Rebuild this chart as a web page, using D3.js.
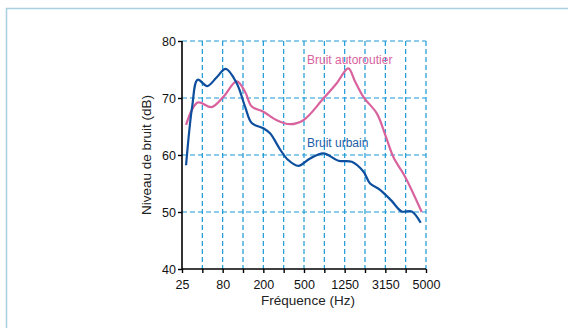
<!DOCTYPE html>
<html>
<head>
<meta charset="utf-8">
<script src="https://cdn.jsdelivr.net/npm/d3@7"></script>
<style>
  body { margin: 0; background: #fff; }
  svg { display: block; font-family: "Liberation Sans", Arial, sans-serif; }
</style>
</head>
<body>
<svg id="chart" width="568" height="328"></svg>
<script>
// x axis is evenly spaced bands (index 0..12), labels every second band
const bandLabels = ["25", "", "80", "", "200", "", "500", "", "1250", "", "3150", "", "5000"];
const yTicks = [40, 50, 60, 70, 80];

// Bruit urbain: [band index, dB]
const urbain = [
  [0.2, 58.2], [0.5, 68.5], [0.77, 73.2], [1.24, 72.1], [1.7, 73.6], [2.15, 75.1],
  [2.69, 72.6], [3.1, 68.5], [3.43, 65.6], [4.0, 64.7], [4.33, 63.8], [4.82, 61.0],
  [5.2, 59.2], [5.72, 58.1], [6.3, 59.4], [6.95, 60.3], [7.69, 59.0], [8.35, 58.8],
  [8.92, 57.1], [9.25, 55.0], [9.74, 53.9], [10.3, 52.0], [10.8, 50.1], [11.3, 50.1],
  [11.74, 48.1]
];

// Bruit autoroutier
const autoroutier = [
  [0.2, 65.3], [0.77, 69.2], [1.46, 68.4], [2.03, 70.2], [2.69, 72.9], [3.1, 71.1],
  [3.43, 68.5], [4.0, 67.6], [4.66, 66.1], [5.31, 65.4], [5.97, 66.1], [6.95, 69.9],
  [7.61, 72.6], [8.18, 75.2], [8.51, 72.9], [8.92, 70.2], [9.58, 67.3], [10.0, 63.5],
  [10.4, 59.6], [10.97, 56.2], [11.79, 50.0]
];

const svg = d3.select("#chart");

// outer frame
svg.append("rect")
  .attr("x", 6.5).attr("y", 8.5)
  .attr("width", 580).attr("height", 340)
  .attr("fill", "none")
  .attr("stroke", "#a9cfe0")
  .attr("stroke-width", 1.5);

const x = d3.scaleLinear().domain([0, 12]).range([182, 426]);
const y = d3.scaleLinear().domain([40, 80]).range([269, 41]);

const gridColor = "#1b9ad6";

// horizontal grid
svg.append("g")
  .selectAll("line")
  .data(yTicks.slice(1))
  .join("line")
  .attr("x1", x(0)).attr("x2", x(12))
  .attr("y1", d => y(d)).attr("y2", d => y(d))
  .attr("stroke", gridColor)
  .attr("stroke-width", 1.2)
  .attr("stroke-dasharray", "5,3");

// vertical grid
svg.append("g")
  .selectAll("line")
  .data(d3.range(1, 13))
  .join("line")
  .attr("x1", d => x(d)).attr("x2", d => x(d))
  .attr("y1", y(80)).attr("y2", y(40))
  .attr("stroke", gridColor)
  .attr("stroke-width", 1.2)
  .attr("stroke-dasharray", "5,3");

// axes
const xAxis = d3.axisBottom(x)
  .tickValues(d3.range(0, 13))
  .tickSize(4)
  .tickFormat(i => bandLabels[i]);
const gx = svg.append("g").attr("transform", `translate(0,${y(40)})`).call(xAxis);
gx.select(".domain").attr("stroke", "#000").attr("stroke-width", 1.6).attr("d", `M${x(0)},0H${x(12)}`);
gx.selectAll(".tick line").attr("stroke", "#000").attr("stroke-width", 1.4);
gx.selectAll(".tick text").attr("font-size", 12.5).attr("fill", "#111").attr("dy", "1.0em")
  .attr("font-family", "'Liberation Sans Narrow', 'Liberation Sans', sans-serif");

const yAxis = d3.axisLeft(y).tickValues(yTicks).tickSize(4);
const gy = svg.append("g").attr("transform", `translate(${x(0)},0)`).call(yAxis);
gy.select(".domain").attr("stroke", "#000").attr("stroke-width", 1.6).attr("d", `M0,${y(80)}V${y(40)}`);
gy.selectAll(".tick line").attr("stroke", "#000").attr("stroke-width", 1.4);
gy.selectAll(".tick text").attr("font-size", 12.5).attr("fill", "#111").attr("x", -6)
  .attr("font-family", "'Liberation Sans Narrow', 'Liberation Sans', sans-serif");

// axis titles
svg.append("text")
  .attr("x", 308).attr("y", 305)
  .attr("text-anchor", "middle")
  .attr("font-size", 13.5).attr("fill", "#222")
  .text("Fréquence (Hz)");

svg.append("text")
  .attr("transform", `translate(151,${y(60)}) rotate(-90)`)
  .attr("text-anchor", "middle")
  .attr("font-size", 13.5).attr("fill", "#222")
  .text("Niveau de bruit (dB)");

// curves
const line = d3.line()
  .x(d => x(d[0]))
  .y(d => y(d[1]))
  .curve(d3.curveCatmullRom.alpha(0.5));

svg.append("path")
  .datum(autoroutier)
  .attr("d", line)
  .attr("fill", "none")
  .attr("stroke", "#d9629e")
  .attr("stroke-width", 2.2);

svg.append("path")
  .datum(urbain)
  .attr("d", line)
  .attr("fill", "none")
  .attr("stroke", "#0d4f9e")
  .attr("stroke-width", 2.2);

// series labels
svg.append("text")
  .attr("x", 307).attr("y", 64)
  .attr("font-size", 12).attr("fill", "#d9629e")
  .text("Bruit autoroutier");

svg.append("text")
  .attr("x", 307).attr("y", 147)
  .attr("font-size", 12).attr("fill", "#1d5ea8")
  .text("Bruit urbain");
</script>
</body>
</html>
